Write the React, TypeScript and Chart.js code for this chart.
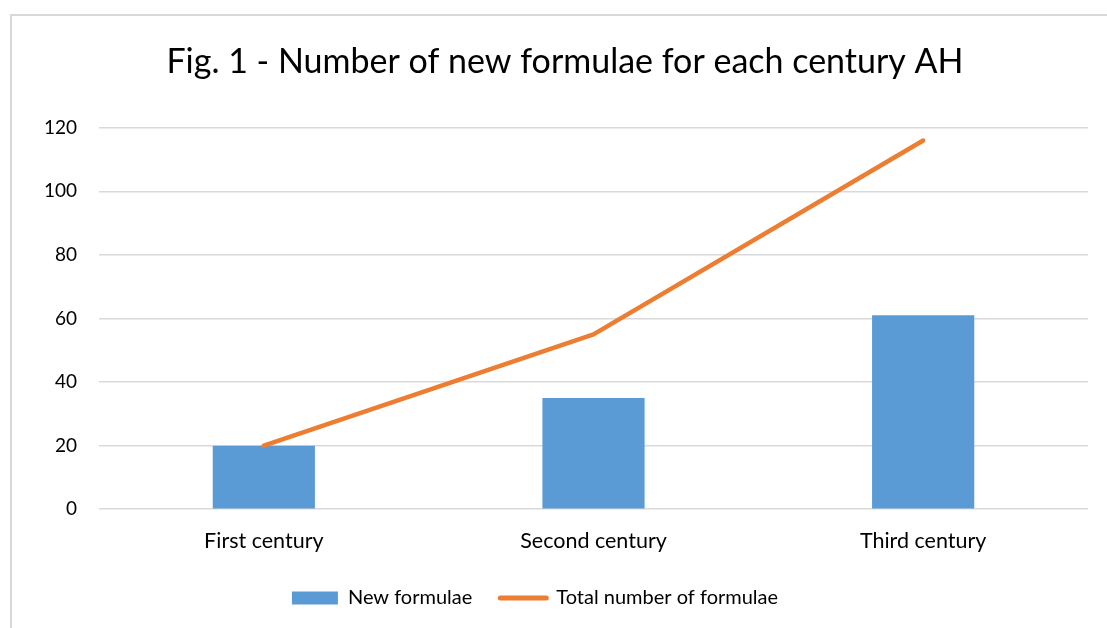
import React, { useEffect, useRef } from "react";
import { Chart, registerables } from "chart.js";

Chart.register(...registerables);

const categories = ["First century", "Second century", "Third century"];
const newFormulae = [20, 35, 61];
const totalFormulae = [20, 55, 116];
const yTicks = [0, 20, 40, 60, 80, 100, 120];
const titleText = "Fig. 1 - Number of new formulae for each century AH";
const seriesNames = ["New formulae", "Total number of formulae"];

const FONT = "Lato, 'Open Sans', sans-serif";

const legendShift = {
  id: "legendShift",
  afterLayout(chart: any) {
    if (chart.legend) {
      chart.legend.left -= 30;
      chart.legend.right -= 30;
    }
  },
};

export default function App() {
  const ref = useRef<HTMLCanvasElement | null>(null);
  useEffect(() => {
    if (!ref.current) return;
    const chart = new Chart(ref.current, {
      type: "bar",
      plugins: [legendShift],
      data: {
        labels: categories,
        datasets: [
          {
            type: "bar",
            label: seriesNames[0],
            data: newFormulae,
            backgroundColor: "#5B9BD5",
            barPercentage: 0.31,
            categoryPercentage: 1,
            order: 1,
          },
          {
            type: "line",
            label: seriesNames[1],
            data: totalFormulae,
            borderColor: "#ED7D31",
            backgroundColor: "#ED7D31",
            borderWidth: 4.5,
            borderCapStyle: "round",
            borderJoinStyle: "round",
            pointRadius: 0,
            tension: 0,
            order: 0,
          } as any,
        ],
      },
      options: {
        animation: false,
        responsive: false,
        layout: { padding: { left: 42, right: 19, top: 42, bottom: 10 } },
        plugins: {
          title: {
            display: true,
            text: titleText,
            color: "#000",
            font: { family: FONT, size: 34, weight: "normal" },
            padding: { top: 0, bottom: 45 },
          },
          legend: {
            position: "bottom",
            labels: {
              color: "#000",
              font: { family: FONT, size: 20 },
              usePointStyle: true,
              pointStyleWidth: 46,
              boxHeight: 13,
              padding: 28,
              generateLabels: () => [
                {
                  text: seriesNames[0],
                  fillStyle: "#5B9BD5",
                  strokeStyle: "#5B9BD5",
                  lineWidth: 0,
                  pointStyle: "rect",
                  datasetIndex: 0,
                  hidden: false,
                } as any,
                {
                  text: seriesNames[1],
                  fillStyle: "#ED7D31",
                  strokeStyle: "#ED7D31",
                  lineWidth: 5,
                  lineCap: "round",
                  pointStyle: "line",
                  datasetIndex: 1,
                  hidden: false,
                } as any,
              ],
            },
          },
          tooltip: { enabled: false },
        },
        scales: {
          x: {
            grid: { display: false },
            border: { display: false },
            ticks: { color: "#000", font: { family: FONT, size: 21.5 }, padding: 11 },
            afterFit: (axis: any) => {
              axis.height -= 5;
            },
          },
          y: {
            min: 0,
            max: 120,
            afterBuildTicks: (axis: any) => {
              axis.ticks = yTicks.map((v) => ({ value: v }));
            },
            afterFit: (axis: any) => {
              axis.width = 57;
            },
            grid: { color: "#d9d9d9", lineWidth: 1.5, drawTicks: false },
            border: { display: false },
            ticks: { color: "#000", font: { family: FONT, size: 19 }, padding: 22 },
          },
        },
      },
    });
    return () => chart.destroy();
  }, []);
  return (
    <div style={{ position: "absolute", left: 0, top: 0, width: 1107, height: 628, overflow: "hidden", background: "#fff" }}>
      <div
        style={{
          position: "absolute",
          left: 10,
          top: 14,
          width: 1200,
          height: 700,
          border: "2px solid #d9d9d9",
        }}
      />
      <canvas ref={ref} width={1107} height={628} style={{ position: "absolute", left: 0, top: 0 }} />
    </div>
  );
}
